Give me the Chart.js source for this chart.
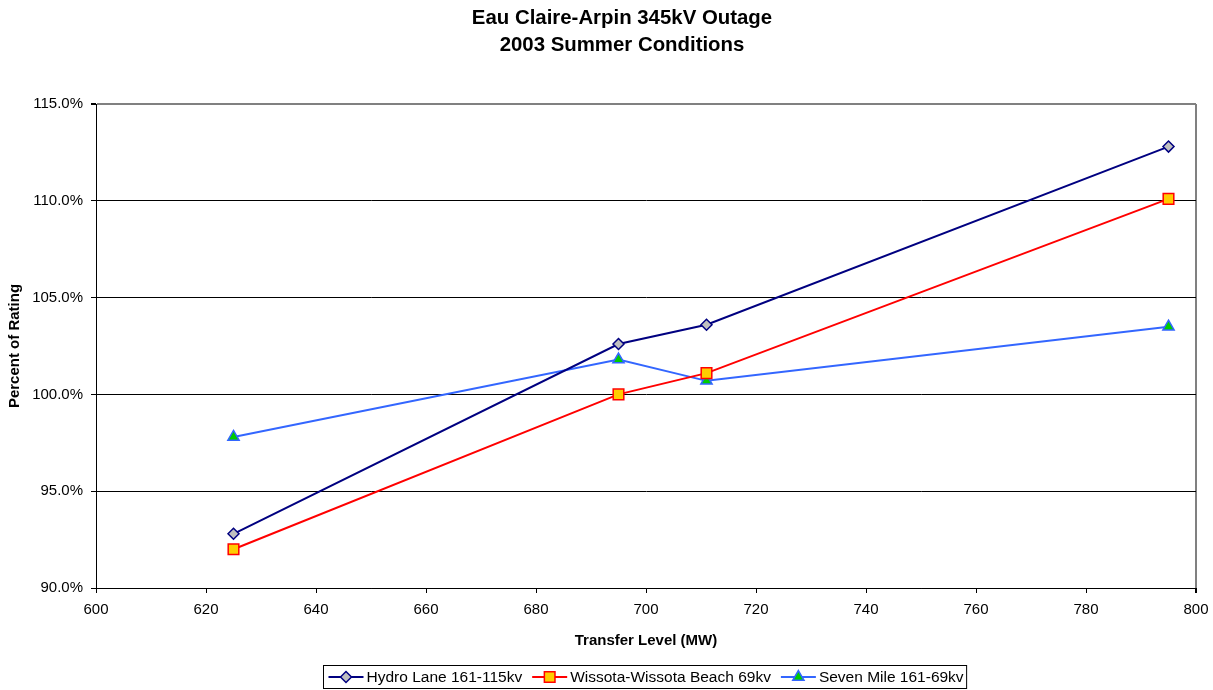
<!DOCTYPE html>
<html>
<head>
<meta charset="utf-8">
<script src="https://cdn.jsdelivr.net/npm/chart.js@4/dist/chart.umd.min.js"></script>
<style>
  html, body { margin: 0; padding: 0; background: #fff; }
  #wrap { width: 1213px; height: 690px; position: relative; }
</style>
</head>
<body>
<div id="wrap"><canvas id="c" width="1213" height="690"></canvas></div>
<script>
// Transfer levels (MW) studied
const transferLevels = [625, 695, 711, 795];

// Loading as percent of rating for each monitored element
const hydroLane = [92.8, 102.6, 103.6, 112.8];
const wissota = [92.0, 100.0, 101.1, 110.1];
const sevenMile = [97.8, 101.8, 100.7, 103.5];

const seriesNames = ['Hydro Lane 161-115kv', 'Wissota-Wissota Beach 69kv', 'Seven Mile 161-69kv'];
const titleLines = ['Eau Claire-Arpin 345kV Outage', '2003 Summer Conditions'];

const FONT = '"Liberation Sans", Arial, Helvetica, sans-serif';

function pts(values) {
  return transferLevels.map((x, i) => ({ x: x, y: values[i] }));
}

function drawMarker(ctx, ds, x, y) {
  ctx.save();
  ctx.fillStyle = ds.pointBackgroundColor;
  ctx.strokeStyle = ds.pointBorderColor;
  ctx.lineWidth = ds.pointBorderWidth;
  Chart.helpers.drawPoint(ctx, {
    pointStyle: ds.pointStyle,
    rotation: 0,
    radius: ds.pointRadius,
    borderWidth: ds.pointBorderWidth
  }, x, y);
  ctx.restore();
}

// Two-line bold heading
const headingPlugin = {
  id: 'heading',
  afterDraw(chart) {
    const ctx = chart.ctx;
    ctx.save();
    ctx.fillStyle = '#000';
    ctx.font = 'bold 20.4px ' + FONT;
    ctx.textAlign = 'center';
    ctx.textBaseline = 'middle';
    const cx = 622;
    ctx.fillText(titleLines[0], cx, 18);
    ctx.fillText(titleLines[1], cx, 45);
    ctx.restore();
  }
};

// Boxed legend with line + marker samples
const boxLegendPlugin = {
  id: 'boxLegend',
  afterDraw(chart) {
    const ctx = chart.ctx;
    ctx.save();
    ctx.font = '15.5px ' + FONT;
    ctx.textBaseline = 'middle';
    const sampleW = 35, gapAfterSample = 3, gapBetween = 10, padL = 5, padR = 3;
    const items = chart.data.datasets.map(ds => ({ ds, w: ctx.measureText(ds.label).width }));
    let total = padL + padR;
    items.forEach((it, i) => { total += sampleW + gapAfterSample + it.w + (i < items.length - 1 ? gapBetween : 0); });
    const boxTop = 665, boxH = 23;
    const left = Math.round(644.5 - total / 2) + 0.5;
    ctx.strokeStyle = '#000';
    ctx.lineWidth = 1;
    ctx.fillStyle = '#fff';
    ctx.fillRect(left, boxTop + 0.5, total, boxH);
    ctx.strokeRect(left, boxTop + 0.5, total, boxH);
    const cy = boxTop + boxH / 2 + 0.5;
    let x = left + padL;
    items.forEach((it) => {
      const ds = it.ds;
      ctx.strokeStyle = ds.borderColor;
      ctx.lineWidth = ds.borderWidth;
      ctx.beginPath();
      ctx.moveTo(x, cy);
      ctx.lineTo(x + sampleW, cy);
      ctx.stroke();
      drawMarker(ctx, ds, x + sampleW / 2, cy);
      x += sampleW + gapAfterSample;
      ctx.fillStyle = '#000';
      ctx.textAlign = 'left';
      ctx.fillText(ds.label, x, cy + 1);
      x += it.w + gapBetween;
    });
    ctx.restore();
  }
};

const chart = new Chart(document.getElementById('c'), {
  type: 'line',
  data: {
    datasets: [
      {
        label: seriesNames[0],
        data: pts(hydroLane),
        borderColor: '#000080',
        borderWidth: 2,
        pointStyle: 'rectRot',
        pointRadius: 5.5,
        pointBackgroundColor: '#c0c0c0',
        pointBorderColor: '#000080',
        pointBorderWidth: 1.5,
        tension: 0
      },
      {
        label: seriesNames[1],
        data: pts(wissota),
        borderColor: '#ff0000',
        borderWidth: 2,
        pointStyle: 'rect',
        pointRadius: 7.5,
        pointBackgroundColor: '#ffcc00',
        pointBorderColor: '#ff0000',
        pointBorderWidth: 1.5,
        tension: 0
      },
      {
        label: seriesNames[2],
        data: pts(sevenMile),
        borderColor: '#3366ff',
        borderWidth: 2,
        pointStyle: 'triangle',
        pointRadius: 6.5,
        pointBackgroundColor: '#00cc00',
        pointBorderColor: '#3366ff',
        pointBorderWidth: 1.5,
        tension: 0
      }
    ]
  },
  options: {
    responsive: false,
    animation: false,
    events: [],
    layout: { padding: { top: 104, right: 17, bottom: 40, left: 0 } },
    plugins: {
      legend: { display: false },
      title: { display: false },
      tooltip: { enabled: false }
    },
    scales: {
      x: {
        type: 'linear',
        min: 600,
        max: 800,
        afterFit(scale) {
          scale.height = 62;
          scale.paddingLeft = 0;
          scale.paddingRight = 0;
        },
        ticks: {
          stepSize: 20,
          color: '#000',
          font: { family: FONT, size: 15 },
          padding: 8
        },
        grid: {
          color: (c) => (c.tick && c.tick.value === 800 ? '#808080' : 'rgba(0,0,0,0)'),
          lineWidth: (c) => (c.tick && c.tick.value === 800 ? 2 : 1),
          tickColor: '#000',
          tickLength: 5
        },
        border: { color: '#000', width: 1 },
        title: {
          display: true,
          text: 'Transfer Level (MW)',
          color: '#000',
          font: { family: FONT, size: 15, weight: 'bold' },
          padding: { top: 4, bottom: 0 }
        }
      },
      y: {
        min: 90,
        max: 115,
        afterFit(scale) { scale.width = 96; },
        ticks: {
          stepSize: 5,
          color: '#000',
          font: { family: FONT, size: 15 },
          padding: 8,
          callback: (v) => v.toFixed(1) + '%'
        },
        grid: {
          color: (c) => (c.tick && c.tick.value === 115 ? '#808080' : '#000'),
          lineWidth: (c) => (c.tick && c.tick.value === 115 ? 2 : 1),
          tickColor: '#000',
          tickLength: 5
        },
        border: { color: '#000', width: 1 },
        title: {
          display: true,
          text: 'Percent of Rating',
          color: '#000',
          font: { family: FONT, size: 15, weight: 'bold' },
          padding: { top: 6, bottom: 0 }
        }
      }
    }
  },
  plugins: [headingPlugin, boxLegendPlugin]
});
</script>
</body>
</html>
